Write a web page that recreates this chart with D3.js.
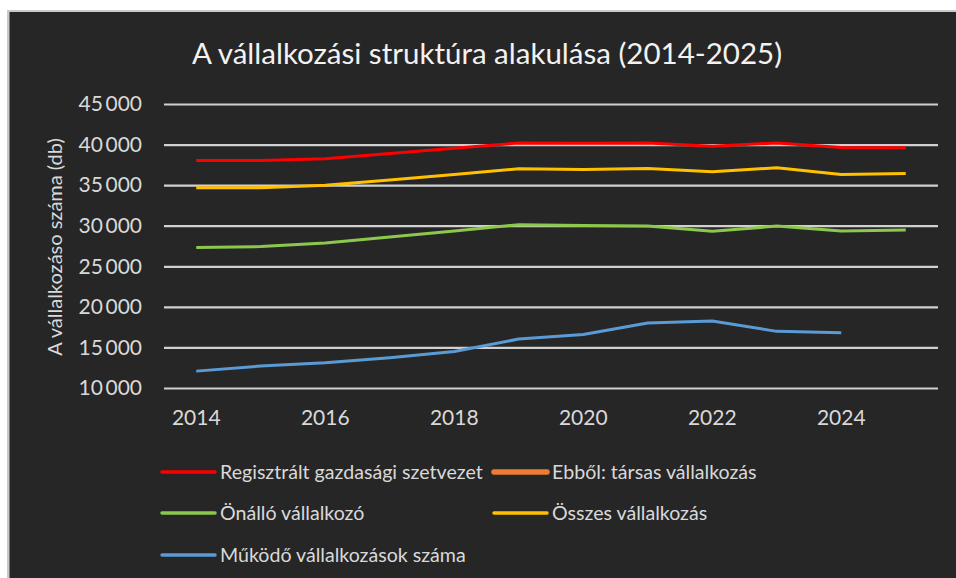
<!DOCTYPE html>
<html>
<head>
<meta charset="utf-8">
<script src="https://cdn.jsdelivr.net/npm/d3@7"></script>
<style>
  html, body { margin: 0; padding: 0; background: #ffffff; }
  svg { display: block; }
  text { font-family: Lato, "Open Sans", sans-serif; }
</style>
</head>
<body>
<svg id="chart" width="956" height="578"></svg>
<script>
const title = "A vállalkozási struktúra alakulása (2014-2025)";
const yAxisTitle = "A vállalkozáso száma (db)";
const years = [2014, 2015, 2016, 2017, 2018, 2019, 2020, 2021, 2022, 2023, 2024, 2025];
const xTickYears = [2014, 2016, 2018, 2020, 2022, 2024];
const yTicks = [10000, 15000, 20000, 25000, 30000, 35000, 40000, 45000];

const seriesNames = [
  "Regisztrált gazdasági szetvezet",
  "Ebből: társas vállalkozás",
  "Önálló vállalkozó",
  "Összes vállalkozás",
  "Működő vállalkozások száma"
];
const seriesColors = ["#ff0000", "#ed7d31", "#8cc84b", "#ffc000", "#5b9bd5"];

const registralt = [38050, 38050, 38250, 38900, 39550, 40200, 40150, 40180, 39800, 40200, 39650, 39600];
const tarsas     = [null, null, null, null, null, null, null, null, null, null, null, null];
const onallo     = [27300, 27430, 27880, 28620, 29360, 30130, 30020, 29950, 29320, 29950, 29360, 29480];
const osszes     = [34670, 34670, 35000, 35620, 36320, 37010, 36930, 37060, 36640, 37140, 36320, 36440];
const mukodo     = [12080, 12700, 13110, 13730, 14510, 16030, 16600, 18000, 18250, 16980, 16820, null];

const seriesValues = [registralt, tarsas, onallo, osszes, mukodo];

const svg = d3.select("#chart");
const W = 956, H = 578;

// frame
svg.append("rect").attr("x", 7).attr("y", 10).attr("width", W - 7).attr("height", H - 10).attr("fill", "#c9c9c9");
svg.append("rect").attr("x", 9.5).attr("y", 12).attr("width", W - 9.5).attr("height", H - 12).attr("fill", "#262626");

const plot = { left: 164, right: 938, top: 104, bottom: 388 };

const x = d3.scaleBand().domain(years).range([plot.left, plot.right]);
const y = d3.scaleLinear().domain([10000, 45000]).range([plot.bottom, plot.top]);
const cx = d => x(d) + x.bandwidth() / 2;

// title
svg.append("text")
  .attr("x", 487).attr("y", 64)
  .attr("text-anchor", "middle")
  .attr("fill", "#f2f2f2")
  .attr("font-size", 29.5)
  .text(title);

// gridlines
const fmt = v => d3.format(",")(v).replace(/,/g, "\u2009");
const yAxis = d3.axisLeft(y).tickValues(yTicks).tickSize(-(plot.right - plot.left)).tickPadding(22).tickFormat(fmt);
const gy = svg.append("g").attr("transform", `translate(${plot.left},0)`).call(yAxis);
gy.select(".domain").remove();
gy.selectAll(".tick line").attr("stroke", "#d0d0d0").attr("stroke-width", 2.2);
gy.selectAll(".tick text").attr("fill", "#d9d9d9").attr("font-size", 21).attr("font-family", "Lato, sans-serif");

// x axis
const xAxis = d3.axisBottom(x).tickValues(xTickYears).tickSize(0).tickPadding(22).tickFormat(d3.format("d"));
const gx = svg.append("g").attr("transform", `translate(0,${plot.bottom})`).call(xAxis);
gx.select(".domain").remove();
gx.selectAll(".tick text").attr("fill", "#d9d9d9").attr("font-size", 21).attr("font-family", "Lato, sans-serif");

// y axis title
svg.append("text")
  .attr("transform", `translate(62,247) rotate(-90)`)
  .attr("text-anchor", "middle")
  .attr("fill", "#d9d9d9")
  .attr("font-size", 20)
  .text(yAxisTitle);

// lines
const line = d3.line()
  .defined(d => d.v !== null)
  .x(d => cx(d.year))
  .y(d => y(d.v));

seriesNames.forEach((name, i) => {
  const data = years.map((yr, j) => ({ year: yr, v: seriesValues[i][j] }));
  svg.append("path")
    .datum(data)
    .attr("fill", "none")
    .attr("stroke", seriesColors[i])
    .attr("stroke-width", 3)
    .attr("stroke-linejoin", "round")
    .attr("d", line);
});

// legend
const legendPos = [
  { x: 162, y: 472 }, { x: 494, y: 472 },
  { x: 162, y: 513 }, { x: 494, y: 513 },
  { x: 162, y: 555 }
];
const legendWidths = [3.5, 5.5, 3.5, 3.5, 3.5];
const lg = svg.append("g");
seriesNames.forEach((name, i) => {
  const p = legendPos[i];
  lg.append("line")
    .attr("x1", p.x).attr("x2", p.x + 53)
    .attr("y1", p.y).attr("y2", p.y)
    .attr("stroke", seriesColors[i])
    .attr("stroke-width", legendWidths[i])
    .attr("stroke-linecap", "round");
  lg.append("text")
    .attr("x", p.x + 58).attr("y", p.y)
    .attr("dy", "0.35em")
    .attr("fill", "#d9d9d9")
    .attr("font-size", 19.6)
    .text(name);
});
</script>
</body>
</html>
